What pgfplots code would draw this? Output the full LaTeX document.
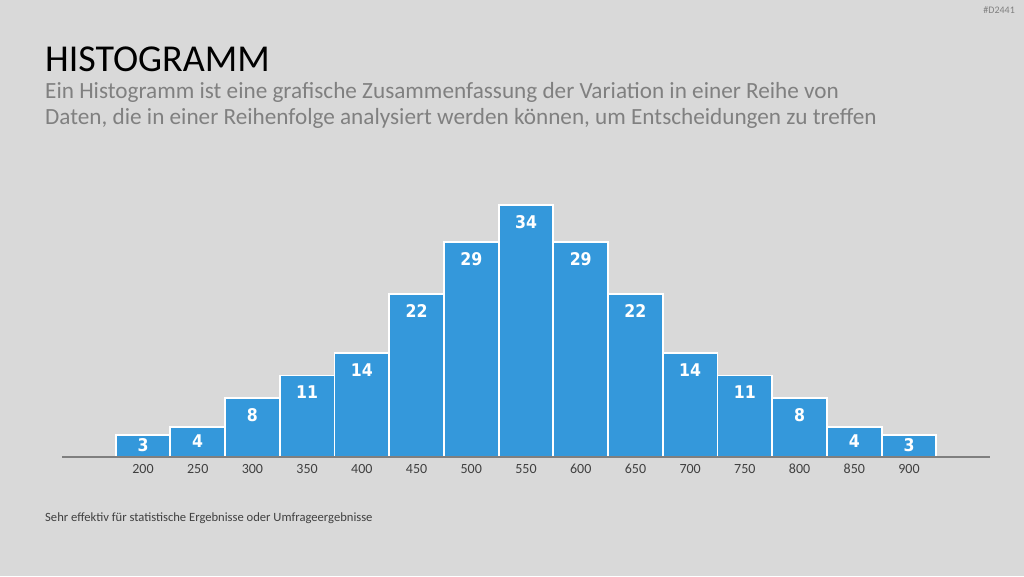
\documentclass[border=0pt]{standalone}
\usepackage{pgfplots}
\pgfplotsset{compat=1.18}
\usepackage{fontspec}
\setmainfont{Carlito}
\newfontfamily\barfont{DejaVu Sans Condensed}
\definecolor{bg}{HTML}{D9D9D9}
\definecolor{barblue}{HTML}{3498DB}
\definecolor{subgray}{HTML}{808080}
\definecolor{axgray}{HTML}{7F7F7F}
\definecolor{tickgray}{HTML}{404040}
\pgfplotstableread{
x y
200 3
250 4
300 8
350 11
400 14
450 22
500 29
550 34
600 29
650 22
700 14
750 11
800 8
850 4
900 3
}\histdata
\begin{document}
\begin{tikzpicture}[x=1pt,y=1pt]
\fill[bg] (0,0) rectangle (1024,576);
\node[anchor=base east, inner sep=0, text=subgray, font=\fontsize{10}{11}\selectfont] at (1015,562) {\#D2441};
\node[anchor=base west, inner sep=0, font=\fontsize{38}{42}\selectfont] at (45,504) {HISTOGRAMM};
\node[anchor=base west, inner sep=0, text=subgray, font=\fontsize{23.2}{26}\selectfont] at (45,477) {Ein Histogramm ist eine grafische Zusammenfassung der Variation in einer Reihe von};
\node[anchor=base west, inner sep=0, text=subgray, font=\fontsize{23.2}{26}\selectfont] at (45,451) {Daten, die in einer Reihenfolge analysiert werden können, um Entscheidungen zu treffen};
\node[anchor=base west, inner sep=0, text=tickgray, font=\fontsize{12.6}{14}\selectfont] at (45,55) {Sehr effektiv für statistische Ergebnisse oder Umfrageergebnisse};
\begin{axis}[
  at={(62pt,119pt)}, anchor=south west,
  scale only axis, width=928pt, height=252pt,
  xmin=126, xmax=974, ymin=0, ymax=34,
  axis lines=none,
  clip=false,
  ybar, bar width=54.7pt,
  xtick=data, ytick=\empty,
  visualization depends on={y \as \rawy},
  nodes near coords={\pgfmathprintnumber[assume math mode=true]{\pgfplotspointmeta}},
  every node near coord/.style={anchor=center, text=white, font=\barfont\bfseries\fontsize{17.5}{18}\selectfont, yshift={-min(17,\rawy*3.55)}, inner sep=0pt},
]
\addplot[fill=barblue, draw=white, line width=1.8pt] table[x=x,y=y] {\histdata};
\draw[axgray, line width=1.8pt] (axis cs:126,0) -- (axis cs:974,0);
\pgfplotsinvokeforeach{200,250,...,900}{
  \node[anchor=base, text=tickgray, font=\fontsize{14}{16}\selectfont] at ([yshift=-16pt]axis cs:#1,0) {#1};
}
\end{axis}
\end{tikzpicture}
\end{document}
